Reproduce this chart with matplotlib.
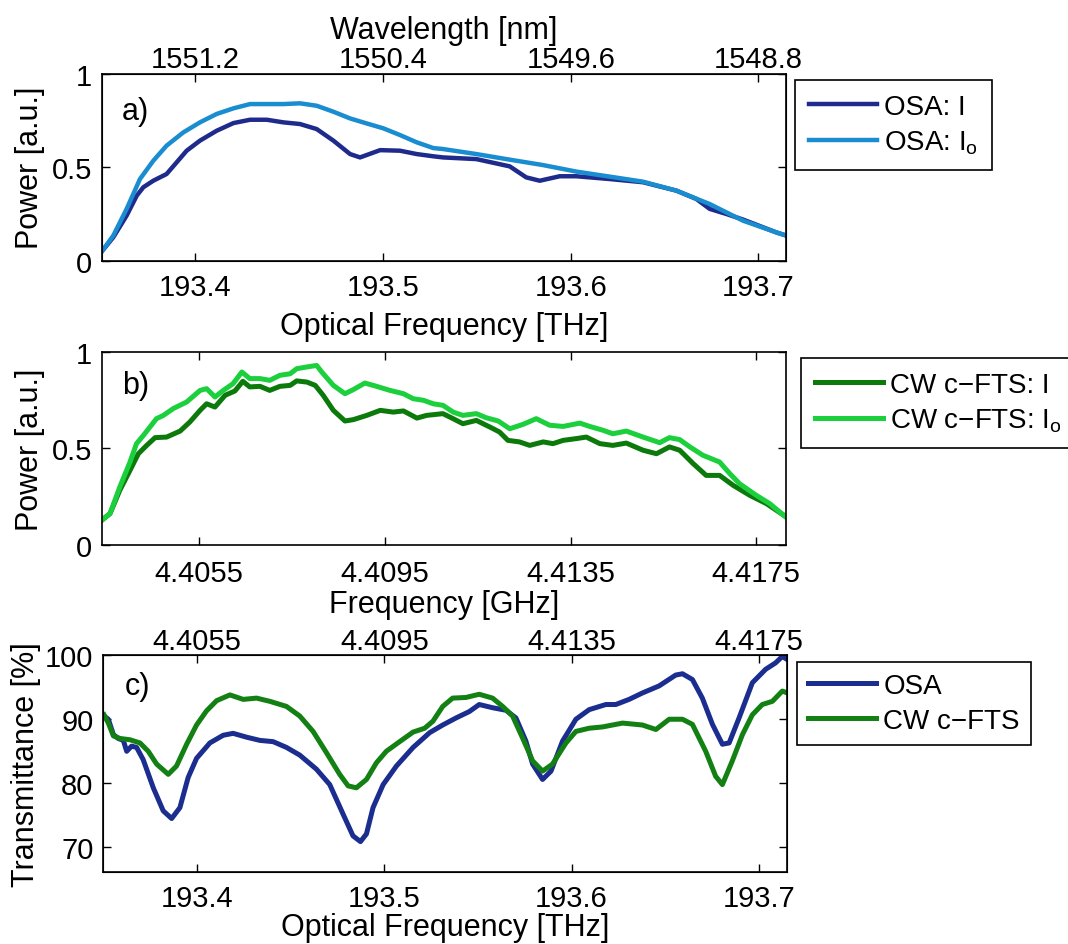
import numpy as np
import matplotlib.pyplot as plt

plt.rcParams['font.family'] = ['Liberation Sans', 'DejaVu Sans']
plt.rcParams['mathtext.fontset'] = 'custom'
plt.rcParams['mathtext.rm'] = 'Liberation Sans'
plt.rcParams['mathtext.it'] = 'Liberation Sans'

# ── a) OSA spectra (optical frequency in THz) ───────────────────────────────
osa_i_f = [193.3500, 193.3562, 193.3633, 193.3687, 193.3722, 193.3775, 193.3846,
           193.3900, 193.3953, 193.4024, 193.4113, 193.4202, 193.4291, 193.4380,
           193.4468, 193.4557, 193.4646, 193.4735, 193.4824, 193.4877, 193.4913,
           193.4984, 193.5090, 193.5179, 193.5268, 193.5319, 193.5497, 193.5675,
           193.5763, 193.5835, 193.5941, 193.6030, 193.6208, 193.6385, 193.6563,
           193.6670, 193.6741, 193.6829, 193.6918, 193.7096, 193.7149]
osa_i_p = [0.048, 0.125, 0.241, 0.348, 0.393, 0.428, 0.464, 0.527, 0.589, 0.643,
           0.696, 0.737, 0.755, 0.755, 0.741, 0.732, 0.705, 0.643, 0.571, 0.553,
           0.566, 0.592, 0.589, 0.571, 0.559, 0.553, 0.544, 0.505, 0.446, 0.428,
           0.452, 0.452, 0.437, 0.420, 0.375, 0.330, 0.277, 0.250, 0.220, 0.151,
           0.134]

osa_io_f = [193.3500, 193.3562, 193.3633, 193.3704, 193.3775, 193.3846, 193.3935,
            193.4024, 193.4113, 193.4202, 193.4291, 193.4380, 193.4468, 193.4557,
            193.4646, 193.4735, 193.4824, 193.4913, 193.5001, 193.5090, 193.5179,
            193.5268, 193.5319, 193.5497, 193.5675, 193.5852, 193.6030, 193.6208,
            193.6385, 193.6563, 193.6741, 193.6918, 193.7096, 193.7149]
osa_io_p = [0.048, 0.134, 0.277, 0.437, 0.535, 0.616, 0.687, 0.741, 0.786, 0.816,
            0.839, 0.839, 0.839, 0.843, 0.830, 0.798, 0.762, 0.735, 0.709, 0.673,
            0.634, 0.603, 0.598, 0.571, 0.541, 0.512, 0.477, 0.450, 0.423, 0.375,
            0.303, 0.214, 0.151, 0.134]

freq_ticks = [193.4, 193.5, 193.6, 193.7]
freq_labels = ['193.4', '193.5', '193.6', '193.7']
wl_labels = ['1551.2', '1550.4', '1549.6', '1548.8']

# ── b) CW c-FTS spectra (RF frequency in GHz) ───────────────────────────────
fts_i_ghz = [4.40340, 4.40358, 4.40379, 4.40401, 4.40419, 4.40437, 4.40455, 4.40480,
             4.40509, 4.40530, 4.40552, 4.40566, 4.40584, 4.40606, 4.40627, 4.40644,
             4.40659, 4.40681, 4.40702, 4.40724, 4.40746, 4.40760, 4.40782, 4.40800,
             4.40817, 4.40839, 4.40864, 4.40882, 4.40911, 4.40940, 4.40968, 4.40990,
             4.41019, 4.41040, 4.41075, 4.41097, 4.41118, 4.41147, 4.41176, 4.41197,
             4.41215, 4.41240, 4.41262, 4.41291, 4.41312, 4.41334, 4.41362, 4.41384,
             4.41413, 4.41441, 4.41470, 4.41506, 4.41535, 4.41563, 4.41585, 4.41614,
             4.41642, 4.41671, 4.41700, 4.41736, 4.41772, 4.41815]
fts_i_p = [0.129, 0.164, 0.284, 0.387, 0.473, 0.516, 0.556, 0.559, 0.590, 0.637,
           0.697, 0.731, 0.714, 0.775, 0.797, 0.847, 0.818, 0.821, 0.800, 0.821,
           0.826, 0.849, 0.843, 0.826, 0.775, 0.697, 0.642, 0.649, 0.671, 0.697,
           0.688, 0.694, 0.657, 0.671, 0.680, 0.654, 0.628, 0.645, 0.611, 0.585,
           0.542, 0.534, 0.516, 0.534, 0.525, 0.542, 0.551, 0.559, 0.525, 0.516,
           0.528, 0.491, 0.473, 0.508, 0.491, 0.422, 0.361, 0.361, 0.310, 0.258,
           0.215, 0.146]

fts_io_ghz = [4.40340, 4.40358, 4.40379, 4.40401, 4.40415, 4.40430, 4.40444, 4.40458,
              4.40473, 4.40494, 4.40523, 4.40552, 4.40566, 4.40584, 4.40602, 4.40623,
              4.40642, 4.40659, 4.40681, 4.40702, 4.40724, 4.40746, 4.40760, 4.40782,
              4.40803, 4.40814, 4.40839, 4.40864, 4.40882, 4.40907, 4.40932, 4.40961,
              4.40990, 4.41011, 4.41033, 4.41054, 4.41075, 4.41097, 4.41118, 4.41147,
              4.41168, 4.41194, 4.41219, 4.41248, 4.41276, 4.41305, 4.41334, 4.41370,
              4.41391, 4.41420, 4.41441, 4.41470, 4.41506, 4.41542, 4.41563, 4.41585,
              4.41607, 4.41635, 4.41671, 4.41693, 4.41714, 4.41750, 4.41779, 4.41815]
fts_io_p = [0.129, 0.164, 0.301, 0.430, 0.525, 0.568, 0.611, 0.654, 0.671, 0.706,
            0.740, 0.800, 0.809, 0.766, 0.800, 0.835, 0.895, 0.861, 0.861, 0.852,
            0.878, 0.886, 0.912, 0.921, 0.929, 0.895, 0.826, 0.783, 0.804, 0.838,
            0.821, 0.800, 0.783, 0.757, 0.749, 0.731, 0.723, 0.688, 0.671, 0.680,
            0.659, 0.642, 0.602, 0.625, 0.654, 0.620, 0.614, 0.631, 0.614, 0.594,
            0.576, 0.590, 0.559, 0.530, 0.556, 0.546, 0.508, 0.465, 0.430, 0.370,
            0.318, 0.258, 0.215, 0.143]

ghz_ticks = [4.4055, 4.4095, 4.4135, 4.4175]
ghz_labels = ['4.4055', '4.4095', '4.4135', '4.4175']

# ── c) Transmittance ────────────────────────────────────────────────────────
osa_t_f = [193.3504, 193.3527, 193.3554, 193.3580, 193.3607, 193.3625, 193.3651,
           193.3678, 193.3713, 193.3767, 193.3820, 193.3865, 193.3909, 193.3953,
           193.3998, 193.4069, 193.4140, 193.4193, 193.4265, 193.4336, 193.4407,
           193.4478, 193.4549, 193.4638, 193.4709, 193.4780, 193.4833, 193.4873,
           193.4905, 193.4940, 193.4994, 193.5065, 193.5154, 193.5242, 193.5312,
           193.5383, 193.5454, 193.5507, 193.5578, 193.5650, 193.5703, 193.5756,
           193.5792, 193.5845, 193.5890, 193.5952, 193.6023, 193.6094, 193.6183,
           193.6236, 193.6307, 193.6378, 193.6467, 193.6556, 193.6592, 193.6645,
           193.6698, 193.6752, 193.6805, 193.6841, 193.6894, 193.6965, 193.7036,
           193.7089, 193.7125, 193.7152]
osa_t = [90.4, 89.9, 87.5, 86.9, 86.6, 84.9, 85.7, 85.5, 83.6, 79.2, 75.6, 74.4,
         76.1, 80.8, 83.8, 86.2, 87.4, 87.7, 87.1, 86.6, 86.4, 85.5, 84.3, 82.1,
         79.7, 75.1, 71.7, 70.8, 72.0, 76.1, 79.7, 82.6, 85.5, 87.8, 89.0, 90.1,
         91.1, 92.2, 91.7, 91.3, 90.1, 86.5, 82.9, 80.5, 81.8, 86.5, 89.9, 91.4,
         92.2, 92.2, 93.0, 94.0, 95.1, 96.8, 97.0, 96.1, 93.2, 89.1, 86.0, 86.2,
         90.1, 95.6, 97.7, 98.7, 99.7, 99.2]

fts_t_f = [193.3504, 193.3527, 193.3554, 193.3589, 193.3642, 193.3696, 193.3740,
           193.3785, 193.3847, 193.3891, 193.3945, 193.3998, 193.4051, 193.4105,
           193.4176, 193.4247, 193.4318, 193.4389, 193.4478, 193.4549, 193.4620,
           193.4691, 193.4762, 193.4807, 193.4851, 193.4905, 193.4958, 193.5011,
           193.5082, 193.5154, 193.5216, 193.5260, 193.5312, 193.5365, 193.5436,
           193.5507, 193.5578, 193.5632, 193.5685, 193.5738, 193.5792, 193.5845,
           193.5898, 193.5970, 193.6023, 193.6094, 193.6165, 193.6272, 193.6378,
           193.6450, 193.6521, 193.6592, 193.6645, 193.6716, 193.6769, 193.6805,
           193.6858, 193.6912, 193.6965, 193.7018, 193.7072, 193.7125, 193.7152]
fts_t = [90.6, 89.3, 87.3, 86.9, 86.7, 86.2, 84.9, 82.9, 81.3, 82.6, 86.0, 89.0,
         91.2, 92.8, 93.7, 93.0, 93.2, 92.7, 91.9, 90.4, 88.0, 84.7, 81.3, 79.5,
         79.2, 80.5, 83.1, 84.9, 86.4, 87.9, 88.5, 89.6, 91.9, 93.2, 93.3, 93.8,
         93.2, 91.9, 90.4, 87.0, 83.4, 81.8, 82.9, 86.2, 88.0, 88.5, 88.7, 89.3,
         89.0, 88.3, 89.9, 89.9, 89.1, 84.9, 81.0, 79.7, 83.4, 87.5, 90.6, 92.2,
         92.7, 94.3, 94.0]

# ── style ───────────────────────────────────────────────────────────────────
FS = 21          # tick labels
FL = 22          # axis labels
FG = 20          # legend
c_osa_dark, c_osa_light = '#1f2b8c', '#1a8dd0'
c_fts_dark, c_fts_light = '#0b7a0b', '#1ccf3c'
c_blue, c_green = '#1b2d8f', '#138013'

fig = plt.figure(figsize=(10.68, 9.45), dpi=100)
ax_a = fig.add_axes([0.0952, 0.7232, 0.6412, 0.1974])
ax_b = fig.add_axes([0.0952, 0.4219, 0.6412, 0.2049])
ax_c = fig.add_axes([0.0967, 0.0765, 0.6402, 0.2298])


def style(ax, top=True, pad=9):
    for s in ax.spines.values():
        s.set_linewidth(1.2)
    ax.tick_params(direction='in', length=6, width=1, labelsize=FS,
                   right=True, top=top, pad=pad)
    ax.tick_params(axis='y', pad=7)


def add_legend(ax, x, y, pad=0.4):
    leg = ax.legend(loc='upper left', bbox_to_anchor=(x, y),
                    bbox_transform=fig.transFigure, borderaxespad=0,
                    fontsize=FG, frameon=True, fancybox=False, framealpha=1,
                    handlelength=2.45, handletextpad=0.25, labelspacing=0.32,
                    borderpad=pad)
    leg.get_frame().set_edgecolor('black')
    leg.get_frame().set_linewidth(1.2)
    return leg


# a)
ax_a.plot(osa_i_f, osa_i_p, color=c_osa_dark, lw=3.2, label='OSA: I')
ax_a.plot(osa_io_f, osa_io_p, color=c_osa_light, lw=3.2, label=r'OSA: I$_\mathregular{o}$')
ax_a.set_xlim(193.35, 193.715)
ax_a.set_ylim(0, 1)
ax_a.set_yticks([0, 0.5, 1])
ax_a.set_yticklabels(['0', '0.5', '1'])
ax_a.set_xticks(freq_ticks)
ax_a.set_xticklabels(freq_labels)
ax_a.set_xlabel('Optical Frequency [THz]', fontsize=FL, labelpad=7)
ax_a.set_ylabel('Power [a.u.]', fontsize=FL, labelpad=5)
style(ax_a, top=False, pad=9)
ax_a.text(0.03, 0.80, 'a)', transform=ax_a.transAxes, fontsize=FL, va='center')
top_a = ax_a.twiny()
top_a.set_xlim(ax_a.get_xlim())
top_a.set_xticks(freq_ticks)
top_a.set_xticklabels(wl_labels)
top_a.tick_params(direction='in', length=6, width=1, labelsize=FS, pad=1)
top_a.set_xlabel('Wavelength [nm]', fontsize=FL, labelpad=5)
add_legend(ax_a, 0.7444, 0.9143, pad=0.5)

# b)
ax_b.plot(fts_i_ghz, fts_i_p, color=c_fts_dark, lw=3.6, label='CW c\u2212FTS: I')
ax_b.plot(fts_io_ghz, fts_io_p, color=c_fts_light, lw=3.6,
          label='CW c\u2212FTS: I$_\\mathregular{o}$')
ax_b.set_xlim(4.4034, 4.41815)
ax_b.set_ylim(0, 1)
ax_b.set_yticks([0, 0.5, 1])
ax_b.set_yticklabels(['0', '0.5', '1'])
ax_b.set_xticks(ghz_ticks)
ax_b.set_xticklabels(ghz_labels)
ax_b.set_xlabel('Frequency [GHz]', fontsize=FL, labelpad=1)
ax_b.set_ylabel('Power [a.u.]', fontsize=FL, labelpad=5)
style(ax_b, pad=10)
ax_b.text(0.03, 0.83, 'b)', transform=ax_b.transAxes, fontsize=FL, va='center')
add_legend(ax_b, 0.75, 0.6201, pad=0.5)

# c)
ax_c.plot(osa_t_f, osa_t, color=c_blue, lw=3.6, label='OSA')
ax_c.plot(fts_t_f, fts_t, color=c_green, lw=3.6, label='CW c\u2212FTS')
ax_c.set_xlim(193.35, 193.715)
ax_c.set_ylim(66.1, 100)
ax_c.set_yticks([70, 80, 90, 100])
ax_c.set_xticks(freq_ticks)
ax_c.set_xticklabels(freq_labels)
ax_c.set_xlabel('Optical Frequency [THz]', fontsize=FL, labelpad=0)
ax_c.set_ylabel('Transmittance [%]', fontsize=FL, labelpad=3)
style(ax_c, top=False, pad=9)
ax_c.text(0.032, 0.855, 'c)', transform=ax_c.transAxes, fontsize=FL, va='center')
top_c = ax_c.twiny()
top_c.set_xlim(ax_c.get_xlim())
top_c.set_xticks(freq_ticks)
top_c.set_xticklabels(ghz_labels)
top_c.tick_params(direction='in', length=6, width=1, labelsize=FS, pad=0)
add_legend(ax_c, 0.7463, 0.2984, pad=0.4)

fig.savefig('out.png', dpi=100)
